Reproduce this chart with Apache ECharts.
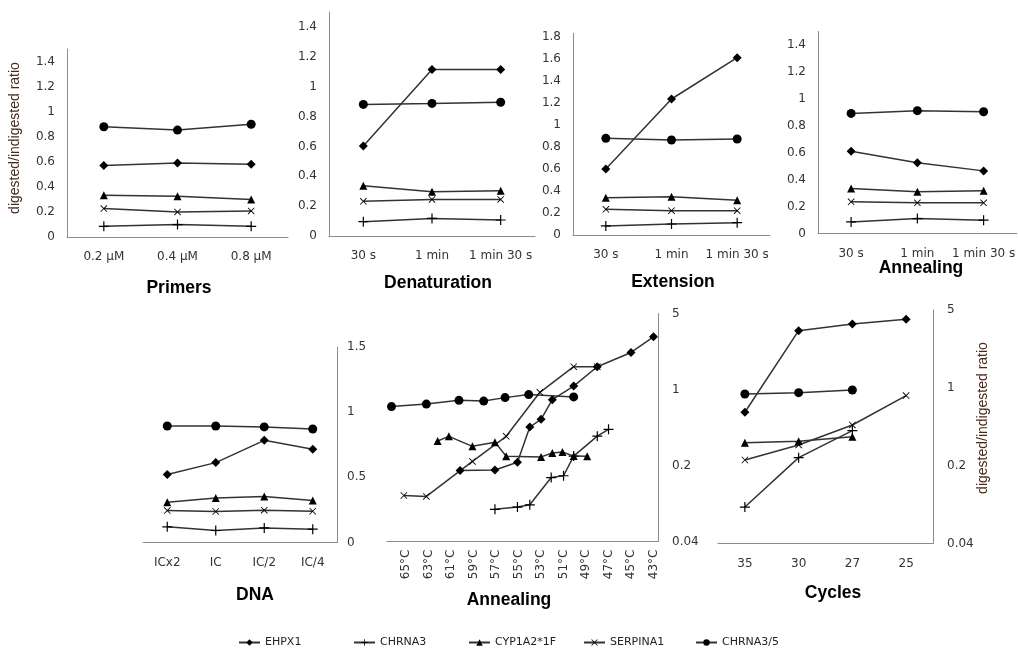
<!DOCTYPE html>
<html>
<head>
<meta charset="utf-8">
<script src="https://cdn.jsdelivr.net/npm/echarts@6/dist/echarts.min.js"></script>
<style>
  html, body { margin: 0; padding: 0; background: #fff; }
  #chart { width: 1018px; height: 648px; }
</style>
</head>
<body>
<div id="chart"></div>
<script>
// series names (legend order)
const seriesNames = ['EHPX1', 'CHRNA3', 'CYP1A2*1F', 'SERPINA1', 'CHRNA3/5']

// Primers
const primerCats = ['0.2 µM', '0.4 µM', '0.8 µM']
const primerEHPX1 = [0.57, 0.59, 0.58]
const primerCHRNA3 = [0.085, 0.099, 0.085]
const primerCYP = [0.333, 0.325, 0.30]
const primerSERP = [0.227, 0.20, 0.208]
const primerCHRNA35 = [0.88, 0.853, 0.90]

// Denaturation
const timeCats = ['30 s', '1 min', '1 min 30 s']
const denatEHPX1 = [0.602, 1.115, 1.115]
const denatCHRNA3 = [0.096, 0.118, 0.107]
const denatCYP = [0.337, 0.297, 0.303]
const denatSERP = [0.232, 0.245, 0.245]
const denatCHRNA35 = [0.881, 0.888, 0.896]

// Extension
const extEHPX1 = [0.599, 1.234, 1.609]
const extCHRNA3 = [0.082, 0.10, 0.112]
const extCYP = [0.339, 0.348, 0.315]
const extSERP = [0.233, 0.221, 0.221]
const extCHRNA35 = [0.877, 0.862, 0.871]

// Annealing (time)
const annEHPX1 = [0.61, 0.525, 0.465]
const annCHRNA3 = [0.086, 0.111, 0.099]
const annCYP = [0.335, 0.31, 0.317]
const annSERP = [0.235, 0.228, 0.228]
const annCHRNA35 = [0.892, 0.912, 0.904]

// DNA
const dnaCats = ['ICx2', 'IC', 'IC/2', 'IC/4']
const dnaEHPX1 = [0.521, 0.613, 0.784, 0.715]
const dnaCHRNA3 = [0.12, 0.092, 0.112, 0.102]
const dnaCYP = [0.309, 0.342, 0.353, 0.322]
const dnaSERP = [0.245, 0.238, 0.248, 0.24]
const dnaCHRNA35 = [0.894, 0.894, 0.887, 0.871]

// Annealing (temperature, log scale)
const tempTicks = [65, 63, 61, 59, 57, 55, 53, 51, 49, 47, 45, 43]
const tEHPX1 = [60.2, 57.1, 55.1, 54.0, 53.0, 52.0, 50.1, 48.0, 45.0, 43.0]
const vEHPX1 = [0.18, 0.182, 0.214, 0.452, 0.532, 0.807, 1.075, 1.62, 2.19, 3.05]
const tCHRNA3 = [57.1, 55.1, 54.0, 52.1, 51.0, 50.1, 48.0, 47.0]
const vCHRNA3 = [0.079, 0.083, 0.087, 0.155, 0.161, 0.244, 0.372, 0.43]
const tCYP = [62.2, 61.2, 59.1, 57.1, 56.1, 53.0, 52.0, 51.1, 50.1, 48.9]
const vCYP = [0.336, 0.371, 0.30, 0.328, 0.243, 0.24, 0.261, 0.266, 0.244, 0.243]
const tSERP = [65.2, 63.2, 59.1, 56.1, 53.1, 50.1, 48.0]
const vSERP = [0.106, 0.104, 0.218, 0.371, 0.942, 1.62, 1.62]
const tCHRNA35 = [66.3, 63.2, 60.3, 58.1, 56.2, 54.1, 50.1]
const vCHRNA35 = [0.696, 0.734, 0.795, 0.782, 0.842, 0.898, 0.855]

// Cycles (log scale)
const cycleCats = ['35', '30', '27', '25']
const cycEHPX1 = [0.604, 3.26, 3.75, 4.13]
const cycCHRNA3 = [0.085, 0.236, 0.413, null]
const cycCYP = [0.322, 0.331, 0.364, null]
const cycSERP = [0.225, 0.307, 0.464, 0.852]
const cycCHRNA35 = [0.88, 0.905, 0.957, null]

const chart = echarts.init(document.getElementById('chart'))

// 标记形状
const plusPath = 'path://M4.4,0H5.6V10H4.4Z M0,4.4H10V5.6H0Z'
const crossPath = 'path://M0.85,0L10,9.15L9.15,10L0,0.85Z M9.15,0L10,0.85L0.85,10L0,9.15Z'
const symbols = ['diamond', plusPath, 'triangle', crossPath, 'circle']
const symbolSizes = [9, 10, 8, 7, 9]

const axisColor = '#8c8c8c'
const labelFont = { fontFamily: 'DejaVu Sans', fontSize: 12, color: '#333' }

const grids = [
  { left: 67, top: 49, width: 221, height: 188 },
  { left: 329, top: 12, width: 206, height: 224 },
  { left: 573, top: 33.3, width: 197, height: 201.7 },
  { left: 818, top: 31.5, width: 200, height: 202 },
  { left: 143, top: 347, width: 194, height: 195.5 },
  { left: 387, top: 313.5, width: 271, height: 228 },
  { left: 718, top: 310, width: 215, height: 233.5 }
]

const catAxis = (i, data) => ({
  type: 'category',
  gridIndex: i,
  data,
  axisLine: { onZero: false, lineStyle: { color: axisColor } },
  axisTick: { show: false },
  axisLabel: { ...labelFont, interval: 0, margin: 14 },
  splitLine: { show: false }
})

const linAxis = (i, max, interval, right) => ({
  type: 'value',
  gridIndex: i,
  position: right ? 'right' : 'left',
  min: 0,
  max,
  interval,
  axisLine: { show: true, lineStyle: { color: axisColor } },
  axisTick: { show: false },
  axisLabel: { ...labelFont, margin: right ? 10 : 12, showMaxLabel: right ? true : false },
  splitLine: { show: false }
})

const logAxis = i => ({
  type: 'log',
  logBase: 5,
  gridIndex: i,
  position: 'right',
  min: 0.04,
  max: 5,
  axisLine: { show: true, lineStyle: { color: axisColor } },
  axisTick: { show: false },
  axisLabel: { ...labelFont, margin: 14, formatter: v => String(+v.toFixed(2)) },
  splitLine: { show: false },
  minorTick: { show: false }
})

const xAxes = [
  catAxis(0, primerCats),
  catAxis(1, timeCats),
  catAxis(2, timeCats),
  catAxis(3, timeCats),
  catAxis(4, dnaCats),
  {
    type: 'value',
    gridIndex: 5,
    inverse: true,
    min: 42.6,
    max: 66.7,
    axisLine: { onZero: false, lineStyle: { color: axisColor } },
    axisTick: { show: false },
    axisLabel: { ...labelFont, rotate: 90, margin: 8, customValues: tempTicks, formatter: v => v + '°C' },
    splitLine: { show: false }
  },
  catAxis(6, cycleCats)
]

const yAxes = [
  linAxis(0, 1.5, 0.2),
  linAxis(1, 1.5, 0.2),
  linAxis(2, 1.83, 0.2),
  linAxis(3, 1.5, 0.2),
  linAxis(4, 1.5, 0.5, true),
  logAxis(5),
  logAxis(6)
]

const panelData = [
  [primerEHPX1, primerCHRNA3, primerCYP, primerSERP, primerCHRNA35],
  [denatEHPX1, denatCHRNA3, denatCYP, denatSERP, denatCHRNA35],
  [extEHPX1, extCHRNA3, extCYP, extSERP, extCHRNA35],
  [annEHPX1, annCHRNA3, annCYP, annSERP, annCHRNA35],
  [dnaEHPX1, dnaCHRNA3, dnaCYP, dnaSERP, dnaCHRNA35],
  [
    tEHPX1.map((t, k) => [t, vEHPX1[k]]),
    tCHRNA3.map((t, k) => [t, vCHRNA3[k]]),
    tCYP.map((t, k) => [t, vCYP[k]]),
    tSERP.map((t, k) => [t, vSERP[k]]),
    tCHRNA35.map((t, k) => [t, vCHRNA35[k]])
  ],
  [cycEHPX1, cycCHRNA3, cycCYP, cycSERP, cycCHRNA35]
]

const series = []
panelData.forEach((panel, p) => {
  panel.forEach((data, s) => {
    series.push({
      name: seriesNames[s],
      type: 'line',
      xAxisIndex: p,
      yAxisIndex: p,
      data,
      symbol: symbols[s],
      symbolSize: symbolSizes[s],
      showAllSymbol: true,
      lineStyle: { color: '#333', width: 1.5 },
      itemStyle: { color: '#000' },
      emphasis: { disabled: true }
    })
  })
})

// 图例位置
const legendLeft = [233, 348, 463, 578, 690]
const legends = seriesNames.map((n, i) => ({
  data: [n],
  left: legendLeft[i],
  top: 632,
  itemWidth: 21,
  itemHeight: 8,
  itemGap: 4,
  textStyle: { fontFamily: 'DejaVu Sans', fontSize: 11, color: '#222' },
  selectedMode: false
}))

const titleStyle = { fontFamily: 'Liberation Sans', fontSize: 17.5, fontWeight: 'bold', fill: '#000', textAlign: 'center', textVerticalAlign: 'middle' }
const titles = [
  ['Primers', 179, 288],
  ['Denaturation', 438, 283],
  ['Extension', 673, 282],
  ['Annealing', 921, 268],
  ['DNA', 255, 595],
  ['Annealing', 509, 600],
  ['Cycles', 833, 593]
]
const nameStyle = { fontFamily: 'Liberation Sans', fontSize: 14, fill: '#4a2a1a', textAlign: 'center', textVerticalAlign: 'middle' }

const graphic = titles.map(([text, x, y]) => ({ type: 'text', x, y, style: { text, ...titleStyle } }))
graphic.push({ type: 'text', x: 15, y: 138, rotation: Math.PI / 2, style: { text: 'digested/indigested ratio', ...nameStyle } })
graphic.push({ type: 'text', x: 983, y: 418, rotation: Math.PI / 2, style: { text: 'digested/indigested ratio', ...nameStyle } })

chart.setOption({
  animation: false,
  backgroundColor: '#fff',
  grid: grids,
  xAxis: xAxes,
  yAxis: yAxes,
  legend: legends,
  series,
  graphic
})
</script>
</body>
</html>
